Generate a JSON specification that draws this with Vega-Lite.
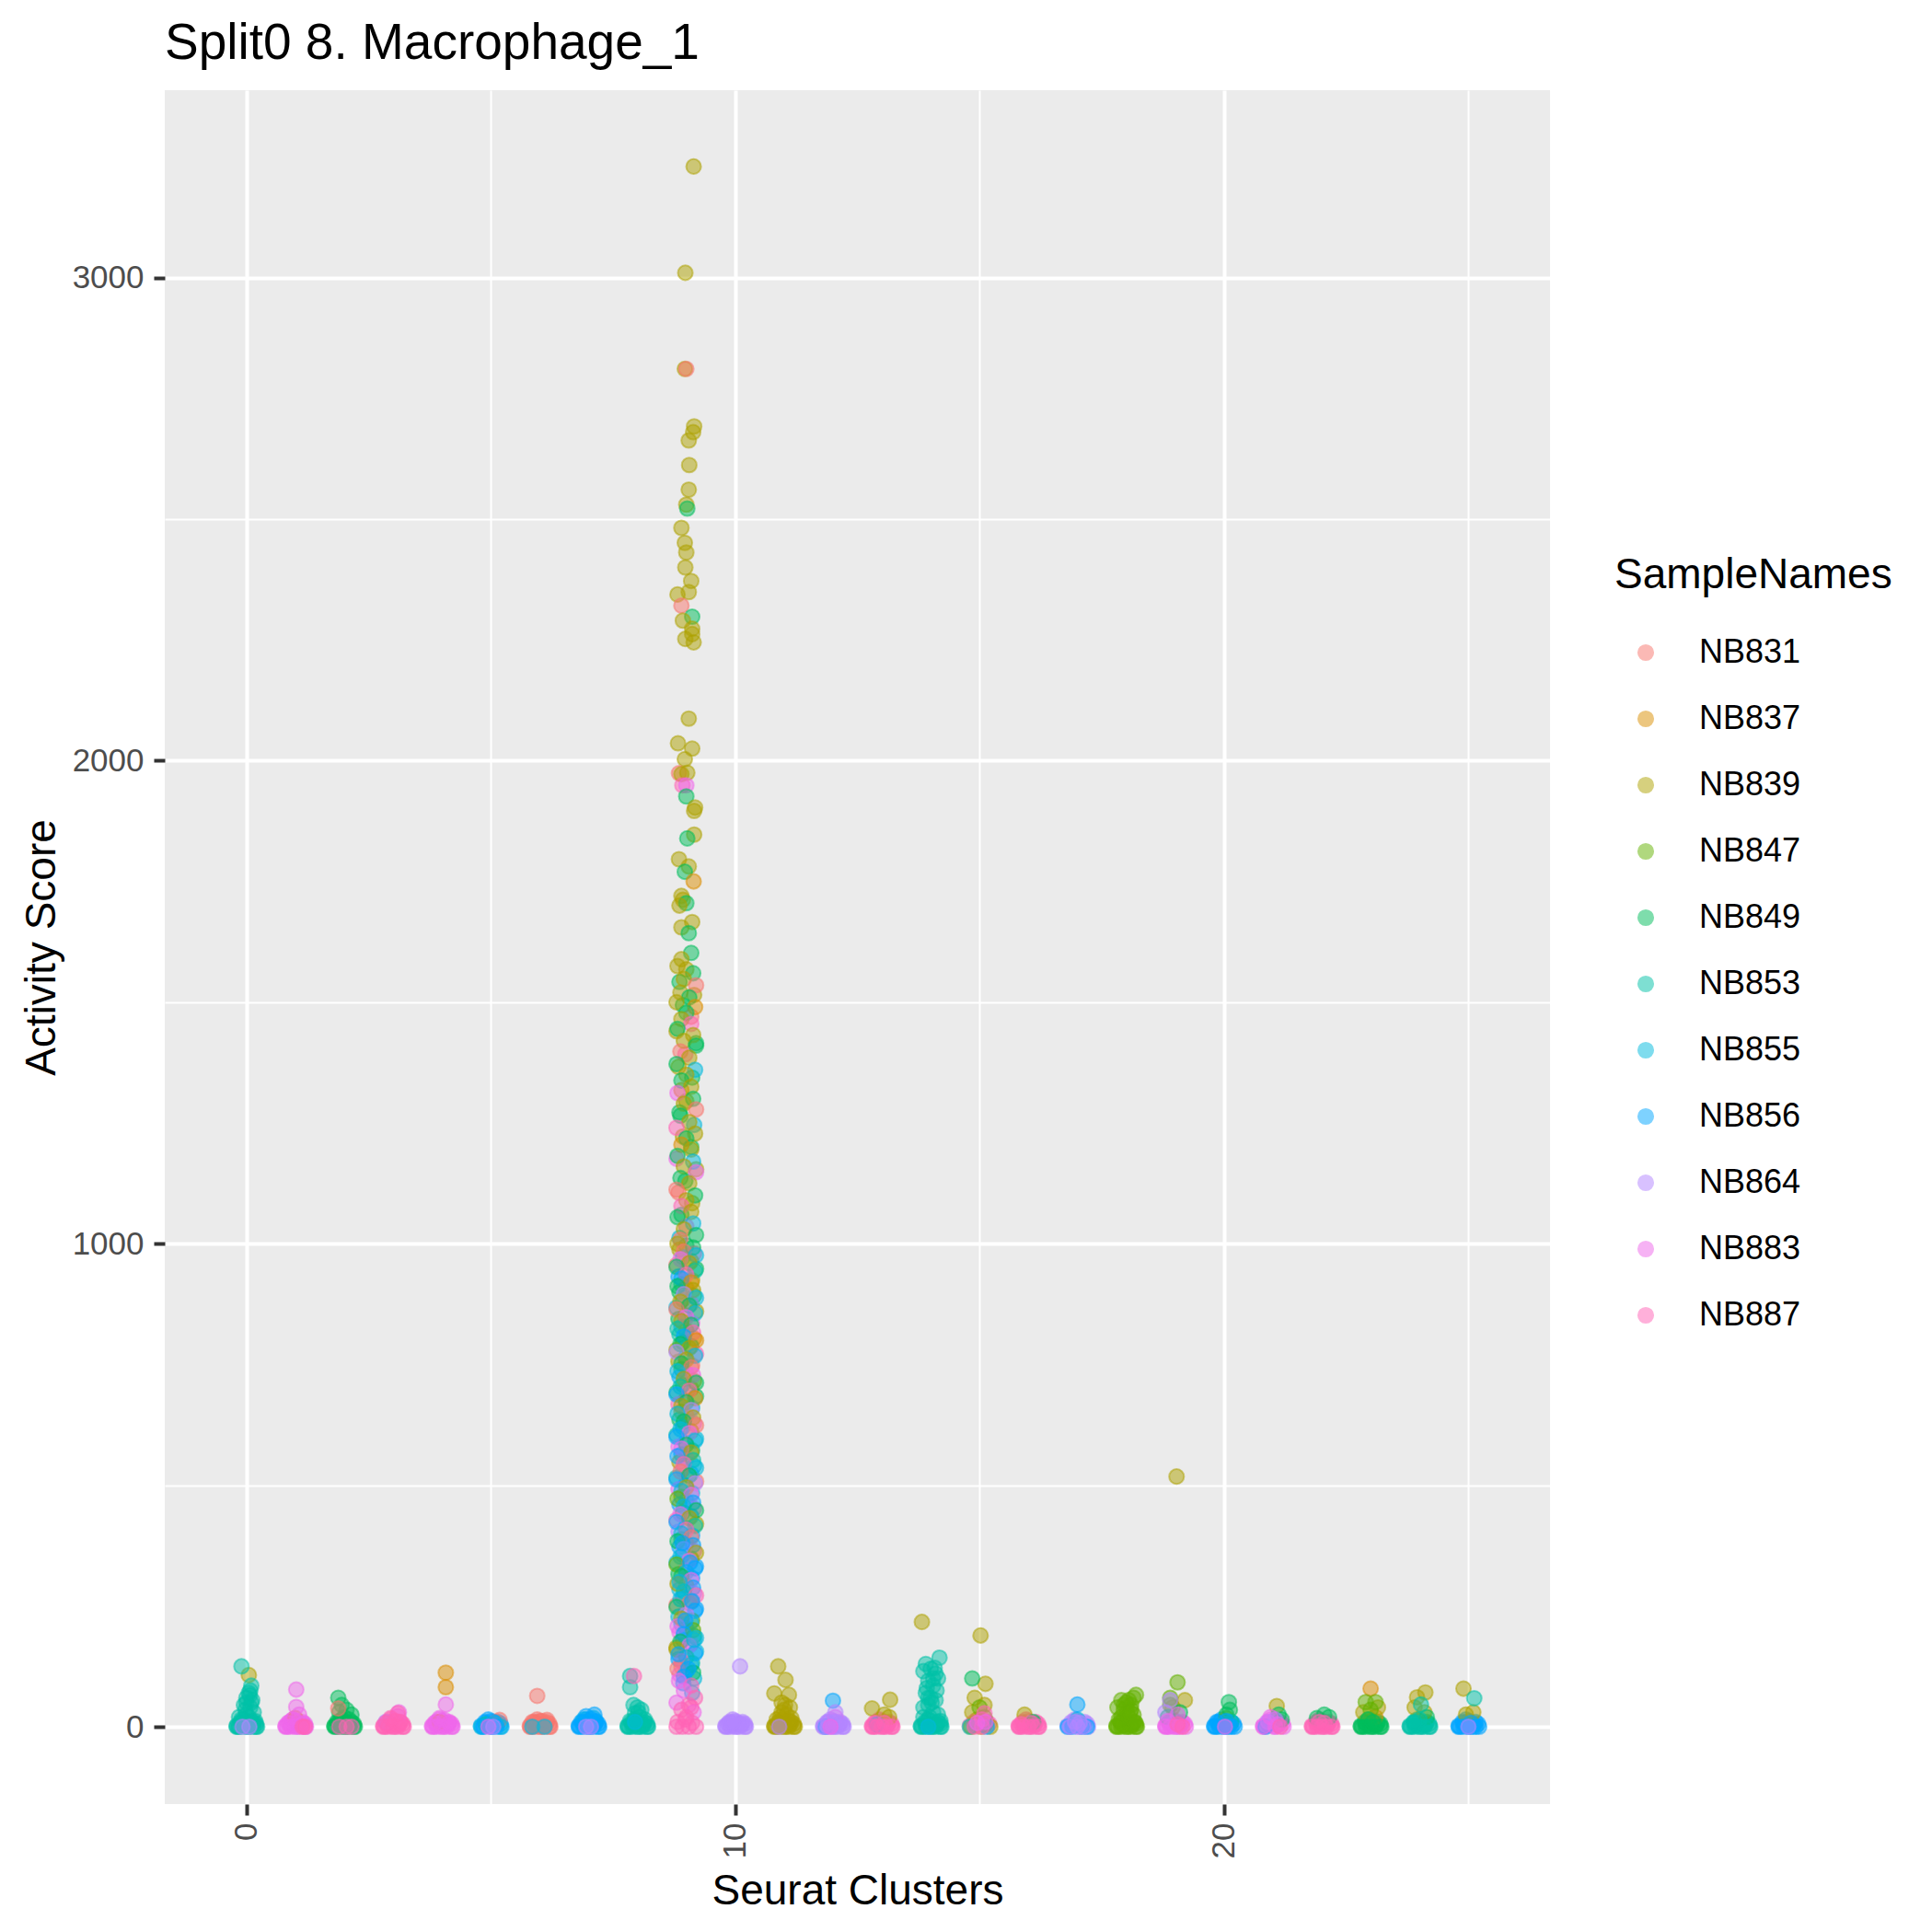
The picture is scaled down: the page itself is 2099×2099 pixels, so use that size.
{
  "$schema": "https://vega.github.io/schema/vega-lite/v6.json",
  "width": 1505,
  "height": 1862,
  "autosize": "none",
  "padding": {"left": 179, "top": 98, "right": 415, "bottom": 139},
  "background": "white",
  "title": {"text": "Split0 8. Macrophage_1", "anchor": "start", "frame": "group", "fontSize": 55, "font": "Liberation Sans", "fontWeight": "normal", "color": "black", "offset": 22},
  "config": {"view": {"fill": "#EBEBEB", "stroke": null}, "font": "Liberation Sans"},
  "data": {"values": [
    {"cluster":-0.2,"score":2,"sample":"NB853"},{"cluster":-0.1,"score":8,"sample":"NB853"},{"cluster":0,"score":12,"sample":"NB853"},{"cluster":0.1,"score":4,"sample":"NB853"},{"cluster":0.2,"score":6,"sample":"NB853"},{"cluster":-0.05,"score":15,"sample":"NB853"},{"cluster":0.15,"score":10,"sample":"NB853"},{"cluster":0.0,"score":50,"sample":"NB853"},{"cluster":0.08,"score":75,"sample":"NB853"},
    {"cluster":0.8,"score":2,"sample":"NB883"},{"cluster":0.9,"score":8,"sample":"NB883"},{"cluster":1.0,"score":12,"sample":"NB883"},{"cluster":1.1,"score":4,"sample":"NB883"},{"cluster":1.2,"score":6,"sample":"NB883"},{"cluster":0.95,"score":15,"sample":"NB883"},{"cluster":1.15,"score":10,"sample":"NB883"},
    {"cluster":1.8,"score":2,"sample":"NB849"},{"cluster":1.9,"score":8,"sample":"NB849"},{"cluster":2.0,"score":12,"sample":"NB849"},{"cluster":2.1,"score":4,"sample":"NB849"},{"cluster":2.2,"score":6,"sample":"NB849"},{"cluster":1.95,"score":15,"sample":"NB849"},{"cluster":2.15,"score":10,"sample":"NB849"},
    {"cluster":2.8,"score":2,"sample":"NB887"},{"cluster":2.9,"score":8,"sample":"NB887"},{"cluster":3.0,"score":12,"sample":"NB887"},{"cluster":3.1,"score":4,"sample":"NB887"},{"cluster":3.2,"score":6,"sample":"NB887"},{"cluster":2.95,"score":15,"sample":"NB887"},{"cluster":3.15,"score":10,"sample":"NB887"},
    {"cluster":3.8,"score":2,"sample":"NB883"},{"cluster":3.9,"score":8,"sample":"NB883"},{"cluster":4.0,"score":12,"sample":"NB883"},{"cluster":4.1,"score":4,"sample":"NB883"},{"cluster":4.2,"score":6,"sample":"NB883"},{"cluster":3.95,"score":15,"sample":"NB883"},{"cluster":4.15,"score":10,"sample":"NB883"},
    {"cluster":4.8,"score":2,"sample":"NB856"},{"cluster":4.9,"score":8,"sample":"NB856"},{"cluster":5.0,"score":12,"sample":"NB856"},{"cluster":5.1,"score":4,"sample":"NB856"},{"cluster":5.2,"score":6,"sample":"NB856"},{"cluster":4.95,"score":15,"sample":"NB856"},{"cluster":5.15,"score":10,"sample":"NB856"},
    {"cluster":5.8,"score":2,"sample":"NB831"},{"cluster":5.9,"score":8,"sample":"NB831"},{"cluster":6.0,"score":12,"sample":"NB831"},{"cluster":6.1,"score":4,"sample":"NB831"},{"cluster":6.2,"score":6,"sample":"NB831"},{"cluster":5.95,"score":15,"sample":"NB831"},{"cluster":6.15,"score":10,"sample":"NB831"},
    {"cluster":6.8,"score":2,"sample":"NB856"},{"cluster":6.9,"score":8,"sample":"NB856"},{"cluster":7.0,"score":12,"sample":"NB856"},{"cluster":7.1,"score":4,"sample":"NB856"},{"cluster":7.2,"score":6,"sample":"NB856"},{"cluster":6.95,"score":15,"sample":"NB856"},{"cluster":7.15,"score":10,"sample":"NB856"},
    {"cluster":7.8,"score":2,"sample":"NB853"},{"cluster":7.9,"score":8,"sample":"NB853"},{"cluster":8.0,"score":12,"sample":"NB853"},{"cluster":8.1,"score":4,"sample":"NB853"},{"cluster":8.2,"score":6,"sample":"NB853"},{"cluster":7.95,"score":15,"sample":"NB853"},{"cluster":8.15,"score":10,"sample":"NB853"},
    {"cluster":9.8,"score":2,"sample":"NB864"},{"cluster":9.9,"score":8,"sample":"NB864"},{"cluster":10.0,"score":12,"sample":"NB864"},{"cluster":10.1,"score":4,"sample":"NB864"},{"cluster":10.2,"score":6,"sample":"NB864"},{"cluster":9.95,"score":15,"sample":"NB864"},{"cluster":10.15,"score":10,"sample":"NB864"},
    {"cluster":10.8,"score":2,"sample":"NB839"},{"cluster":10.9,"score":8,"sample":"NB839"},{"cluster":11.0,"score":12,"sample":"NB839"},{"cluster":11.1,"score":4,"sample":"NB839"},{"cluster":11.2,"score":6,"sample":"NB839"},{"cluster":10.95,"score":15,"sample":"NB839"},{"cluster":11.15,"score":10,"sample":"NB839"},
    {"cluster":11.8,"score":2,"sample":"NB864"},{"cluster":11.9,"score":8,"sample":"NB864"},{"cluster":12.0,"score":12,"sample":"NB864"},{"cluster":12.1,"score":4,"sample":"NB864"},{"cluster":12.2,"score":6,"sample":"NB864"},{"cluster":11.95,"score":15,"sample":"NB864"},{"cluster":12.15,"score":10,"sample":"NB864"},
    {"cluster":12.8,"score":2,"sample":"NB887"},{"cluster":12.9,"score":8,"sample":"NB887"},{"cluster":13.0,"score":12,"sample":"NB887"},{"cluster":13.1,"score":4,"sample":"NB887"},{"cluster":13.2,"score":6,"sample":"NB887"},{"cluster":12.95,"score":15,"sample":"NB887"},{"cluster":13.15,"score":10,"sample":"NB887"},
    {"cluster":13.8,"score":2,"sample":"NB853"},{"cluster":13.9,"score":8,"sample":"NB853"},{"cluster":14.0,"score":12,"sample":"NB853"},{"cluster":14.1,"score":4,"sample":"NB853"},{"cluster":14.2,"score":6,"sample":"NB853"},{"cluster":13.95,"score":15,"sample":"NB853"},{"cluster":14.15,"score":10,"sample":"NB853"},{"cluster":13.95,"score":60,"sample":"NB853"},{"cluster":14.05,"score":100,"sample":"NB853"},{"cluster":14.0,"score":120,"sample":"NB853"},
    {"cluster":14.8,"score":2,"sample":"NB887"},{"cluster":14.9,"score":8,"sample":"NB839"},{"cluster":15.0,"score":12,"sample":"NB887"},{"cluster":15.1,"score":4,"sample":"NB839"},{"cluster":15.2,"score":6,"sample":"NB887"},{"cluster":14.95,"score":15,"sample":"NB839"},{"cluster":15.15,"score":10,"sample":"NB887"},
    {"cluster":15.8,"score":2,"sample":"NB887"},{"cluster":15.9,"score":8,"sample":"NB887"},{"cluster":16.0,"score":12,"sample":"NB887"},{"cluster":16.1,"score":4,"sample":"NB887"},{"cluster":16.2,"score":6,"sample":"NB887"},{"cluster":15.95,"score":15,"sample":"NB887"},{"cluster":16.15,"score":10,"sample":"NB887"},
    {"cluster":16.8,"score":2,"sample":"NB864"},{"cluster":16.9,"score":8,"sample":"NB864"},{"cluster":17.0,"score":12,"sample":"NB864"},{"cluster":17.1,"score":4,"sample":"NB864"},{"cluster":17.2,"score":6,"sample":"NB864"},{"cluster":16.95,"score":15,"sample":"NB864"},{"cluster":17.15,"score":10,"sample":"NB864"},
    {"cluster":17.8,"score":2,"sample":"NB847"},{"cluster":17.9,"score":8,"sample":"NB847"},{"cluster":18.0,"score":12,"sample":"NB847"},{"cluster":18.1,"score":4,"sample":"NB847"},{"cluster":18.2,"score":6,"sample":"NB847"},{"cluster":17.95,"score":15,"sample":"NB847"},{"cluster":18.15,"score":10,"sample":"NB847"},{"cluster":17.9,"score":20,"sample":"NB847"},{"cluster":18.1,"score":35,"sample":"NB847"},{"cluster":18.0,"score":40,"sample":"NB847"},{"cluster":18.05,"score":55,"sample":"NB847"},
    {"cluster":18.8,"score":2,"sample":"NB883"},{"cluster":18.9,"score":8,"sample":"NB883"},{"cluster":19.0,"score":12,"sample":"NB883"},{"cluster":19.1,"score":4,"sample":"NB883"},{"cluster":19.2,"score":6,"sample":"NB883"},{"cluster":18.95,"score":15,"sample":"NB883"},{"cluster":19.15,"score":10,"sample":"NB883"},
    {"cluster":19.8,"score":2,"sample":"NB856"},{"cluster":19.9,"score":8,"sample":"NB856"},{"cluster":20.0,"score":12,"sample":"NB856"},{"cluster":20.1,"score":4,"sample":"NB856"},{"cluster":20.2,"score":6,"sample":"NB856"},{"cluster":19.95,"score":15,"sample":"NB856"},{"cluster":20.15,"score":10,"sample":"NB856"},
    {"cluster":20.8,"score":2,"sample":"NB883"},{"cluster":20.9,"score":8,"sample":"NB883"},{"cluster":21.0,"score":12,"sample":"NB883"},{"cluster":21.1,"score":4,"sample":"NB883"},{"cluster":21.2,"score":6,"sample":"NB883"},{"cluster":20.95,"score":15,"sample":"NB883"},{"cluster":21.15,"score":10,"sample":"NB883"},
    {"cluster":21.8,"score":2,"sample":"NB887"},{"cluster":21.9,"score":8,"sample":"NB887"},{"cluster":22.0,"score":12,"sample":"NB887"},{"cluster":22.1,"score":4,"sample":"NB887"},{"cluster":22.2,"score":6,"sample":"NB887"},{"cluster":21.95,"score":15,"sample":"NB887"},{"cluster":22.15,"score":10,"sample":"NB887"},
    {"cluster":22.8,"score":2,"sample":"NB849"},{"cluster":22.9,"score":8,"sample":"NB849"},{"cluster":23.0,"score":12,"sample":"NB849"},{"cluster":23.1,"score":4,"sample":"NB849"},{"cluster":23.2,"score":6,"sample":"NB849"},{"cluster":22.95,"score":15,"sample":"NB849"},{"cluster":23.15,"score":10,"sample":"NB849"},
    {"cluster":23.8,"score":2,"sample":"NB853"},{"cluster":23.9,"score":8,"sample":"NB853"},{"cluster":24.0,"score":12,"sample":"NB853"},{"cluster":24.1,"score":4,"sample":"NB853"},{"cluster":24.2,"score":6,"sample":"NB853"},{"cluster":23.95,"score":15,"sample":"NB853"},{"cluster":24.15,"score":10,"sample":"NB853"},
    {"cluster":24.8,"score":2,"sample":"NB856"},{"cluster":24.9,"score":8,"sample":"NB856"},{"cluster":25.0,"score":12,"sample":"NB856"},{"cluster":25.1,"score":4,"sample":"NB856"},{"cluster":25.2,"score":6,"sample":"NB856"},{"cluster":24.95,"score":15,"sample":"NB856"},{"cluster":25.15,"score":10,"sample":"NB856"},

    {"cluster":-0.17,"score":0,"sample":"NB853"},{"cluster":-0.07,"score":3,"sample":"NB853"},{"cluster":0.03,"score":0,"sample":"NB853"},{"cluster":0.13,"score":6,"sample":"NB853"},{"cluster":0.22,"score":0,"sample":"NB853"},{"cluster":-0.12,"score":10,"sample":"NB853"},{"cluster":0.08,"score":4,"sample":"NB853"},{"cluster":0.05,"score":20,"sample":"NB853"},{"cluster":-0.02,"score":35,"sample":"NB853"},{"cluster":0.1,"score":50,"sample":"NB853"},{"cluster":0.07,"score":65,"sample":"NB853"},
    {"cluster":0.83,"score":0,"sample":"NB883"},{"cluster":0.93,"score":3,"sample":"NB883"},{"cluster":1.03,"score":0,"sample":"NB883"},{"cluster":1.13,"score":6,"sample":"NB883"},{"cluster":1.22,"score":0,"sample":"NB883"},{"cluster":0.88,"score":10,"sample":"NB883"},{"cluster":1.08,"score":4,"sample":"NB883"},
    {"cluster":1.83,"score":0,"sample":"NB849"},{"cluster":1.93,"score":3,"sample":"NB849"},{"cluster":2.03,"score":0,"sample":"NB849"},{"cluster":2.13,"score":6,"sample":"NB849"},{"cluster":2.22,"score":0,"sample":"NB849"},{"cluster":1.88,"score":10,"sample":"NB849"},{"cluster":2.08,"score":4,"sample":"NB849"},{"cluster":1.95,"score":45,"sample":"NB849"},
    {"cluster":2.83,"score":0,"sample":"NB887"},{"cluster":2.93,"score":3,"sample":"NB887"},{"cluster":3.03,"score":0,"sample":"NB887"},{"cluster":3.13,"score":6,"sample":"NB887"},{"cluster":3.22,"score":0,"sample":"NB887"},{"cluster":2.88,"score":10,"sample":"NB887"},{"cluster":3.08,"score":4,"sample":"NB887"},
    {"cluster":3.83,"score":0,"sample":"NB883"},{"cluster":3.93,"score":3,"sample":"NB883"},{"cluster":4.03,"score":0,"sample":"NB883"},{"cluster":4.13,"score":6,"sample":"NB883"},{"cluster":4.22,"score":0,"sample":"NB883"},{"cluster":3.88,"score":10,"sample":"NB883"},{"cluster":4.08,"score":4,"sample":"NB883"},
    {"cluster":4.83,"score":0,"sample":"NB856"},{"cluster":4.93,"score":3,"sample":"NB856"},{"cluster":5.03,"score":0,"sample":"NB856"},{"cluster":5.13,"score":6,"sample":"NB856"},{"cluster":5.22,"score":0,"sample":"NB856"},{"cluster":4.88,"score":10,"sample":"NB856"},{"cluster":5.08,"score":4,"sample":"NB856"},
    {"cluster":5.83,"score":0,"sample":"NB831"},{"cluster":5.93,"score":3,"sample":"NB831"},{"cluster":6.03,"score":0,"sample":"NB831"},{"cluster":6.13,"score":6,"sample":"NB831"},{"cluster":6.22,"score":0,"sample":"NB831"},{"cluster":5.88,"score":10,"sample":"NB831"},{"cluster":6.08,"score":4,"sample":"NB831"},
    {"cluster":6.83,"score":0,"sample":"NB856"},{"cluster":6.93,"score":3,"sample":"NB856"},{"cluster":7.03,"score":0,"sample":"NB856"},{"cluster":7.13,"score":6,"sample":"NB856"},{"cluster":7.22,"score":0,"sample":"NB856"},{"cluster":6.88,"score":10,"sample":"NB856"},{"cluster":7.08,"score":4,"sample":"NB856"},
    {"cluster":7.83,"score":0,"sample":"NB853"},{"cluster":7.93,"score":3,"sample":"NB853"},{"cluster":8.03,"score":0,"sample":"NB853"},{"cluster":8.13,"score":6,"sample":"NB853"},{"cluster":8.22,"score":0,"sample":"NB853"},{"cluster":7.88,"score":10,"sample":"NB853"},{"cluster":8.08,"score":4,"sample":"NB853"},{"cluster":8.02,"score":30,"sample":"NB853"},{"cluster":7.92,"score":45,"sample":"NB853"},
    {"cluster":9.83,"score":0,"sample":"NB864"},{"cluster":9.93,"score":3,"sample":"NB864"},{"cluster":10.03,"score":0,"sample":"NB864"},{"cluster":10.13,"score":6,"sample":"NB864"},{"cluster":10.22,"score":0,"sample":"NB864"},{"cluster":9.88,"score":10,"sample":"NB864"},{"cluster":10.08,"score":4,"sample":"NB864"},
    {"cluster":10.83,"score":0,"sample":"NB839"},{"cluster":10.93,"score":3,"sample":"NB839"},{"cluster":11.03,"score":0,"sample":"NB839"},{"cluster":11.13,"score":6,"sample":"NB839"},{"cluster":11.22,"score":0,"sample":"NB839"},{"cluster":10.88,"score":10,"sample":"NB839"},{"cluster":11.08,"score":4,"sample":"NB839"},{"cluster":11.02,"score":45,"sample":"NB839"},{"cluster":10.92,"score":20,"sample":"NB839"},
    {"cluster":11.83,"score":0,"sample":"NB864"},{"cluster":11.93,"score":3,"sample":"NB864"},{"cluster":12.03,"score":0,"sample":"NB864"},{"cluster":12.13,"score":6,"sample":"NB864"},{"cluster":12.22,"score":0,"sample":"NB864"},{"cluster":11.88,"score":10,"sample":"NB864"},{"cluster":12.08,"score":4,"sample":"NB864"},
    {"cluster":12.83,"score":0,"sample":"NB887"},{"cluster":12.93,"score":3,"sample":"NB887"},{"cluster":13.03,"score":0,"sample":"NB887"},{"cluster":13.13,"score":6,"sample":"NB887"},{"cluster":13.22,"score":0,"sample":"NB887"},{"cluster":12.88,"score":10,"sample":"NB887"},{"cluster":13.08,"score":4,"sample":"NB887"},
    {"cluster":13.83,"score":0,"sample":"NB853"},{"cluster":13.93,"score":3,"sample":"NB853"},{"cluster":14.03,"score":0,"sample":"NB853"},{"cluster":14.13,"score":6,"sample":"NB853"},{"cluster":14.22,"score":0,"sample":"NB853"},{"cluster":13.88,"score":10,"sample":"NB853"},{"cluster":14.08,"score":4,"sample":"NB853"},{"cluster":14.02,"score":50,"sample":"NB853"},{"cluster":13.92,"score":80,"sample":"NB853"},{"cluster":14.1,"score":110,"sample":"NB853"},{"cluster":13.98,"score":20,"sample":"NB853"},
    {"cluster":14.83,"score":0,"sample":"NB839"},{"cluster":14.93,"score":3,"sample":"NB887"},{"cluster":15.03,"score":0,"sample":"NB839"},{"cluster":15.13,"score":6,"sample":"NB887"},{"cluster":15.22,"score":0,"sample":"NB839"},{"cluster":14.88,"score":10,"sample":"NB887"},{"cluster":15.08,"score":4,"sample":"NB839"},
    {"cluster":15.83,"score":0,"sample":"NB887"},{"cluster":15.93,"score":3,"sample":"NB887"},{"cluster":16.03,"score":0,"sample":"NB887"},{"cluster":16.13,"score":6,"sample":"NB887"},{"cluster":16.22,"score":0,"sample":"NB887"},{"cluster":15.88,"score":10,"sample":"NB887"},{"cluster":16.08,"score":4,"sample":"NB887"},
    {"cluster":16.83,"score":0,"sample":"NB864"},{"cluster":16.93,"score":3,"sample":"NB864"},{"cluster":17.03,"score":0,"sample":"NB864"},{"cluster":17.13,"score":6,"sample":"NB864"},{"cluster":17.22,"score":0,"sample":"NB864"},{"cluster":16.88,"score":10,"sample":"NB864"},{"cluster":17.08,"score":4,"sample":"NB864"},
    {"cluster":17.83,"score":0,"sample":"NB847"},{"cluster":17.93,"score":3,"sample":"NB847"},{"cluster":18.03,"score":0,"sample":"NB847"},{"cluster":18.13,"score":6,"sample":"NB847"},{"cluster":18.22,"score":0,"sample":"NB847"},{"cluster":17.88,"score":10,"sample":"NB847"},{"cluster":18.08,"score":4,"sample":"NB847"},{"cluster":18.02,"score":30,"sample":"NB847"},{"cluster":17.95,"score":45,"sample":"NB847"},
    {"cluster":18.83,"score":0,"sample":"NB883"},{"cluster":18.93,"score":3,"sample":"NB883"},{"cluster":19.03,"score":0,"sample":"NB883"},{"cluster":19.13,"score":6,"sample":"NB883"},{"cluster":19.22,"score":0,"sample":"NB883"},{"cluster":18.88,"score":10,"sample":"NB883"},{"cluster":19.08,"score":4,"sample":"NB883"},
    {"cluster":19.83,"score":0,"sample":"NB856"},{"cluster":19.93,"score":3,"sample":"NB856"},{"cluster":20.03,"score":0,"sample":"NB856"},{"cluster":20.13,"score":6,"sample":"NB856"},{"cluster":20.22,"score":0,"sample":"NB856"},{"cluster":19.88,"score":10,"sample":"NB856"},{"cluster":20.08,"score":4,"sample":"NB856"},
    {"cluster":20.83,"score":0,"sample":"NB883"},{"cluster":20.93,"score":3,"sample":"NB883"},{"cluster":21.03,"score":0,"sample":"NB883"},{"cluster":21.13,"score":6,"sample":"NB883"},{"cluster":21.22,"score":0,"sample":"NB883"},{"cluster":20.88,"score":10,"sample":"NB883"},{"cluster":21.08,"score":4,"sample":"NB883"},
    {"cluster":21.83,"score":0,"sample":"NB887"},{"cluster":21.93,"score":3,"sample":"NB887"},{"cluster":22.03,"score":0,"sample":"NB887"},{"cluster":22.13,"score":6,"sample":"NB887"},{"cluster":22.22,"score":0,"sample":"NB887"},{"cluster":21.88,"score":10,"sample":"NB887"},{"cluster":22.08,"score":4,"sample":"NB887"},
    {"cluster":22.83,"score":0,"sample":"NB849"},{"cluster":22.93,"score":3,"sample":"NB849"},{"cluster":23.03,"score":0,"sample":"NB849"},{"cluster":23.13,"score":6,"sample":"NB849"},{"cluster":23.22,"score":0,"sample":"NB849"},{"cluster":22.88,"score":10,"sample":"NB849"},{"cluster":23.08,"score":4,"sample":"NB849"},
    {"cluster":23.83,"score":0,"sample":"NB853"},{"cluster":23.93,"score":3,"sample":"NB853"},{"cluster":24.03,"score":0,"sample":"NB853"},{"cluster":24.13,"score":6,"sample":"NB853"},{"cluster":24.22,"score":0,"sample":"NB853"},{"cluster":23.88,"score":10,"sample":"NB853"},{"cluster":24.08,"score":4,"sample":"NB853"},
    {"cluster":24.83,"score":0,"sample":"NB856"},{"cluster":24.93,"score":3,"sample":"NB856"},{"cluster":25.03,"score":0,"sample":"NB856"},{"cluster":25.13,"score":6,"sample":"NB856"},{"cluster":25.22,"score":0,"sample":"NB856"},{"cluster":24.88,"score":10,"sample":"NB856"},{"cluster":25.08,"score":4,"sample":"NB856"},

    {"cluster":9.0,"score":1568,"sample":"NB839"},{"cluster":8.86,"score":1542,"sample":"NB849"},{"cluster":9.16,"score":1515,"sample":"NB839"},{"cluster":8.93,"score":1494,"sample":"NB849"},{"cluster":9.1,"score":1470,"sample":"NB831"},{"cluster":8.8,"score":1440,"sample":"NB839"},{"cluster":9.2,"score":1415,"sample":"NB849"},{"cluster":8.98,"score":1392,"sample":"NB887"},{"cluster":8.84,"score":1366,"sample":"NB839"},{"cluster":9.12,"score":1344,"sample":"NB849"},{"cluster":8.9,"score":1318,"sample":"NB837"},{"cluster":9.0,"score":1295,"sample":"NB839"},{"cluster":8.86,"score":1272,"sample":"NB849"},{"cluster":9.16,"score":1246,"sample":"NB855"},{"cluster":8.93,"score":1222,"sample":"NB839"},{"cluster":9.1,"score":1200,"sample":"NB849"},{"cluster":8.8,"score":1176,"sample":"NB883"},{"cluster":9.2,"score":1154,"sample":"NB839"},{"cluster":8.98,"score":1130,"sample":"NB849"},{"cluster":8.84,"score":1106,"sample":"NB831"},{"cluster":9.12,"score":1084,"sample":"NB839"},{"cluster":8.9,"score":1060,"sample":"NB849"},{"cluster":9.0,"score":1036,"sample":"NB887"},{"cluster":8.86,"score":1012,"sample":"NB855"},

    {"cluster":9.0,"score":996,"sample":"NB849"},{"cluster":8.86,"score":988,"sample":"NB839"},{"cluster":9.16,"score":980,"sample":"NB887"},{"cluster":8.93,"score":972,"sample":"NB855"},{"cluster":9.1,"score":964,"sample":"NB839"},{"cluster":8.8,"score":956,"sample":"NB831"},{"cluster":9.2,"score":948,"sample":"NB849"},{"cluster":8.98,"score":940,"sample":"NB883"},{"cluster":8.84,"score":932,"sample":"NB856"},{"cluster":9.12,"score":924,"sample":"NB839"},{"cluster":8.9,"score":916,"sample":"NB853"},{"cluster":9.0,"score":908,"sample":"NB837"},{"cluster":8.86,"score":900,"sample":"NB849"},{"cluster":9.16,"score":892,"sample":"NB849"},{"cluster":8.93,"score":884,"sample":"NB839"},{"cluster":9.1,"score":876,"sample":"NB887"},{"cluster":8.8,"score":868,"sample":"NB855"},{"cluster":9.2,"score":860,"sample":"NB839"},{"cluster":8.98,"score":852,"sample":"NB831"},{"cluster":8.84,"score":844,"sample":"NB849"},{"cluster":9.12,"score":836,"sample":"NB883"},{"cluster":8.9,"score":828,"sample":"NB856"},{"cluster":9.0,"score":820,"sample":"NB839"},{"cluster":8.86,"score":812,"sample":"NB853"},{"cluster":9.16,"score":804,"sample":"NB837"},{"cluster":8.93,"score":796,"sample":"NB849"},{"cluster":9.1,"score":788,"sample":"NB849"},{"cluster":8.8,"score":780,"sample":"NB839"},{"cluster":9.2,"score":772,"sample":"NB887"},{"cluster":8.98,"score":764,"sample":"NB855"},{"cluster":8.84,"score":756,"sample":"NB839"},{"cluster":9.12,"score":748,"sample":"NB831"},{"cluster":8.9,"score":740,"sample":"NB849"},{"cluster":9.0,"score":732,"sample":"NB883"},{"cluster":8.86,"score":724,"sample":"NB856"},{"cluster":9.16,"score":716,"sample":"NB839"},{"cluster":8.93,"score":708,"sample":"NB853"},{"cluster":9.1,"score":700,"sample":"NB837"},{"cluster":8.8,"score":692,"sample":"NB849"},{"cluster":9.2,"score":684,"sample":"NB849"},{"cluster":8.98,"score":676,"sample":"NB839"},{"cluster":8.84,"score":668,"sample":"NB887"},{"cluster":9.12,"score":660,"sample":"NB855"},{"cluster":8.9,"score":652,"sample":"NB839"},{"cluster":9.0,"score":644,"sample":"NB831"},{"cluster":8.86,"score":636,"sample":"NB849"},{"cluster":9.16,"score":628,"sample":"NB883"},{"cluster":8.93,"score":620,"sample":"NB856"},{"cluster":9.1,"score":612,"sample":"NB839"},{"cluster":8.8,"score":604,"sample":"NB853"},

    {"cluster":9.2,"score":596,"sample":"NB855"},{"cluster":8.98,"score":588,"sample":"NB856"},{"cluster":8.84,"score":580,"sample":"NB883"},{"cluster":9.12,"score":572,"sample":"NB849"},{"cluster":8.9,"score":564,"sample":"NB856"},{"cluster":9.0,"score":556,"sample":"NB887"},{"cluster":8.86,"score":548,"sample":"NB839"},{"cluster":9.16,"score":540,"sample":"NB855"},{"cluster":8.93,"score":532,"sample":"NB864"},{"cluster":9.1,"score":524,"sample":"NB856"},{"cluster":8.8,"score":516,"sample":"NB853"},{"cluster":9.2,"score":508,"sample":"NB831"},{"cluster":8.98,"score":500,"sample":"NB856"},{"cluster":8.84,"score":492,"sample":"NB883"},{"cluster":9.12,"score":484,"sample":"NB855"},{"cluster":8.9,"score":476,"sample":"NB847"},{"cluster":9.0,"score":468,"sample":"NB855"},{"cluster":8.86,"score":460,"sample":"NB856"},{"cluster":9.16,"score":452,"sample":"NB883"},{"cluster":8.93,"score":444,"sample":"NB849"},{"cluster":9.1,"score":436,"sample":"NB856"},{"cluster":8.8,"score":428,"sample":"NB887"},{"cluster":9.2,"score":420,"sample":"NB839"},{"cluster":8.98,"score":412,"sample":"NB855"},{"cluster":8.84,"score":404,"sample":"NB864"},{"cluster":9.12,"score":396,"sample":"NB856"},{"cluster":8.9,"score":388,"sample":"NB853"},{"cluster":9.0,"score":380,"sample":"NB831"},{"cluster":8.86,"score":372,"sample":"NB856"},{"cluster":9.16,"score":364,"sample":"NB883"},{"cluster":8.93,"score":356,"sample":"NB855"},{"cluster":9.1,"score":348,"sample":"NB847"},{"cluster":8.8,"score":340,"sample":"NB855"},{"cluster":9.2,"score":332,"sample":"NB856"},{"cluster":8.98,"score":324,"sample":"NB883"},{"cluster":8.84,"score":316,"sample":"NB849"},{"cluster":9.12,"score":308,"sample":"NB856"},{"cluster":8.9,"score":300,"sample":"NB887"},{"cluster":9.0,"score":292,"sample":"NB839"},{"cluster":8.86,"score":284,"sample":"NB855"},{"cluster":9.16,"score":276,"sample":"NB864"},{"cluster":8.93,"score":268,"sample":"NB856"},{"cluster":9.1,"score":260,"sample":"NB853"},{"cluster":8.8,"score":252,"sample":"NB831"},{"cluster":9.2,"score":244,"sample":"NB856"},{"cluster":8.98,"score":236,"sample":"NB883"},{"cluster":8.84,"score":228,"sample":"NB855"},{"cluster":9.12,"score":220,"sample":"NB847"},{"cluster":8.9,"score":212,"sample":"NB855"},{"cluster":9.0,"score":204,"sample":"NB856"},{"cluster":8.86,"score":196,"sample":"NB883"},{"cluster":9.16,"score":188,"sample":"NB849"},{"cluster":8.93,"score":180,"sample":"NB856"},{"cluster":9.1,"score":172,"sample":"NB887"},{"cluster":8.8,"score":164,"sample":"NB839"},{"cluster":9.2,"score":156,"sample":"NB855"},{"cluster":8.98,"score":148,"sample":"NB864"},{"cluster":8.84,"score":140,"sample":"NB856"},{"cluster":9.12,"score":132,"sample":"NB853"},{"cluster":8.9,"score":124,"sample":"NB831"},{"cluster":9.0,"score":116,"sample":"NB856"},{"cluster":8.86,"score":108,"sample":"NB883"},{"cluster":9.16,"score":100,"sample":"NB855"},

    {"cluster":0.05,"score":107,"sample":"NB839"},
    {"cluster":-0.1,"score":125,"sample":"NB853"},{"cluster":-0.15,"score":0,"sample":"NB853"},{"cluster":-0.05,"score":0,"sample":"NB853"},{"cluster":0.05,"score":0,"sample":"NB853"},{"cluster":0.15,"score":0,"sample":"NB853"},{"cluster":0.2,"score":0,"sample":"NB853"},{"cluster":-0.2,"score":0,"sample":"NB853"},{"cluster":0.1,"score":10,"sample":"NB853"},{"cluster":-0.1,"score":15,"sample":"NB853"},{"cluster":0,"score":25,"sample":"NB853"},{"cluster":0.08,"score":40,"sample":"NB853"},{"cluster":0.12,"score":55,"sample":"NB853"},{"cluster":0.05,"score":70,"sample":"NB853"},{"cluster":0.1,"score":85,"sample":"NB853"},{"cluster":-0.05,"score":45,"sample":"NB853"},{"cluster":0.15,"score":30,"sample":"NB853"},{"cluster":-0.15,"score":20,"sample":"NB853"},{"cluster":0,"score":60,"sample":"NB853"},{"cluster":0.18,"score":12,"sample":"NB853"},
    {"cluster":-0.08,"score":0,"sample":"NB864"},{"cluster":0.06,"score":0,"sample":"NB864"},

    {"cluster":1.0,"score":18,"sample":"NB837"},
    {"cluster":0.8,"score":0,"sample":"NB883"},{"cluster":0.9,"score":0,"sample":"NB883"},{"cluster":1.0,"score":0,"sample":"NB883"},{"cluster":1.1,"score":0,"sample":"NB883"},{"cluster":1.2,"score":0,"sample":"NB883"},{"cluster":0.85,"score":8,"sample":"NB883"},{"cluster":1.05,"score":10,"sample":"NB883"},{"cluster":1.15,"score":6,"sample":"NB883"},{"cluster":0.95,"score":15,"sample":"NB883"},{"cluster":1.02,"score":41,"sample":"NB883"},{"cluster":1.02,"score":77,"sample":"NB883"},{"cluster":1.08,"score":25,"sample":"NB883"},
    {"cluster":1.15,"score":0,"sample":"NB887"},{"cluster":1.2,"score":0,"sample":"NB887"},

    {"cluster":1.8,"score":0,"sample":"NB849"},{"cluster":1.9,"score":0,"sample":"NB849"},{"cluster":2.0,"score":0,"sample":"NB849"},{"cluster":2.1,"score":0,"sample":"NB849"},{"cluster":2.2,"score":0,"sample":"NB849"},{"cluster":1.85,"score":10,"sample":"NB849"},{"cluster":2.0,"score":20,"sample":"NB849"},{"cluster":2.1,"score":15,"sample":"NB849"},{"cluster":1.9,"score":30,"sample":"NB849"},{"cluster":1.88,"score":60,"sample":"NB849"},{"cluster":2.05,"score":35,"sample":"NB849"},{"cluster":2.15,"score":25,"sample":"NB849"},
    {"cluster":1.9,"score":0,"sample":"NB887"},{"cluster":2.05,"score":0,"sample":"NB887"},{"cluster":2.15,"score":0,"sample":"NB887"},
    {"cluster":1.88,"score":38,"sample":"NB831"},

    {"cluster":2.85,"score":10,"sample":"NB864"},
    {"cluster":3.1,"score":22,"sample":"NB883"},{"cluster":3.12,"score":30,"sample":"NB883"},
    {"cluster":2.8,"score":0,"sample":"NB887"},{"cluster":2.9,"score":0,"sample":"NB887"},{"cluster":3.0,"score":0,"sample":"NB887"},{"cluster":3.1,"score":0,"sample":"NB887"},{"cluster":3.2,"score":0,"sample":"NB887"},{"cluster":2.85,"score":8,"sample":"NB887"},{"cluster":3.05,"score":12,"sample":"NB887"},{"cluster":3.15,"score":10,"sample":"NB887"},{"cluster":2.95,"score":18,"sample":"NB887"},{"cluster":3.1,"score":28,"sample":"NB887"},

    {"cluster":4.08,"score":112,"sample":"NB837"},{"cluster":4.08,"score":82,"sample":"NB837"},{"cluster":3.95,"score":10,"sample":"NB837"},
    {"cluster":4.08,"score":46,"sample":"NB883"},{"cluster":3.8,"score":0,"sample":"NB883"},{"cluster":3.9,"score":0,"sample":"NB883"},{"cluster":4.0,"score":0,"sample":"NB883"},{"cluster":4.1,"score":0,"sample":"NB883"},{"cluster":4.2,"score":0,"sample":"NB883"},{"cluster":3.85,"score":8,"sample":"NB883"},{"cluster":4.05,"score":14,"sample":"NB883"},{"cluster":4.15,"score":8,"sample":"NB883"},{"cluster":3.95,"score":18,"sample":"NB883"},

    {"cluster":5.1,"score":10,"sample":"NB831"},{"cluster":5.18,"score":14,"sample":"NB831"},
    {"cluster":4.9,"score":5,"sample":"NB853"},
    {"cluster":4.8,"score":0,"sample":"NB855"},{"cluster":5.2,"score":0,"sample":"NB855"},{"cluster":5.1,"score":8,"sample":"NB855"},
    {"cluster":4.85,"score":0,"sample":"NB856"},{"cluster":5.0,"score":0,"sample":"NB856"},{"cluster":5.12,"score":0,"sample":"NB856"},{"cluster":5.05,"score":10,"sample":"NB856"},
    {"cluster":4.95,"score":0,"sample":"NB883"},{"cluster":5.05,"score":0,"sample":"NB864"},

    {"cluster":5.95,"score":64,"sample":"NB831"},{"cluster":5.8,"score":0,"sample":"NB831"},{"cluster":5.9,"score":0,"sample":"NB831"},{"cluster":6.0,"score":0,"sample":"NB831"},{"cluster":6.1,"score":0,"sample":"NB831"},{"cluster":6.2,"score":0,"sample":"NB831"},{"cluster":5.85,"score":10,"sample":"NB831"},{"cluster":6.05,"score":12,"sample":"NB831"},{"cluster":6.15,"score":14,"sample":"NB831"},{"cluster":5.95,"score":8,"sample":"NB831"},
    {"cluster":5.85,"score":0,"sample":"NB855"},{"cluster":6.1,"score":0,"sample":"NB855"},

    {"cluster":6.9,"score":15,"sample":"NB855"},{"cluster":7.1,"score":18,"sample":"NB855"},
    {"cluster":6.8,"score":0,"sample":"NB856"},{"cluster":6.9,"score":0,"sample":"NB856"},{"cluster":7.0,"score":0,"sample":"NB856"},{"cluster":7.1,"score":0,"sample":"NB856"},{"cluster":7.2,"score":0,"sample":"NB856"},{"cluster":6.85,"score":10,"sample":"NB856"},{"cluster":7.05,"score":16,"sample":"NB856"},{"cluster":7.15,"score":12,"sample":"NB856"},{"cluster":6.95,"score":22,"sample":"NB856"},{"cluster":7.12,"score":25,"sample":"NB856"},
    {"cluster":6.95,"score":0,"sample":"NB864"},{"cluster":7.05,"score":0,"sample":"NB864"},

    {"cluster":7.85,"score":105,"sample":"NB853"},{"cluster":7.85,"score":82,"sample":"NB853"},{"cluster":7.8,"score":0,"sample":"NB853"},{"cluster":7.9,"score":0,"sample":"NB853"},{"cluster":8.0,"score":0,"sample":"NB853"},{"cluster":8.1,"score":0,"sample":"NB853"},{"cluster":8.2,"score":0,"sample":"NB853"},{"cluster":7.85,"score":12,"sample":"NB853"},{"cluster":8.05,"score":20,"sample":"NB853"},{"cluster":8.15,"score":15,"sample":"NB853"},{"cluster":7.95,"score":28,"sample":"NB853"},{"cluster":8.08,"score":35,"sample":"NB853"},{"cluster":8.0,"score":40,"sample":"NB853"},
    {"cluster":7.93,"score":105,"sample":"NB887"},{"cluster":7.95,"score":10,"sample":"NB855"},

    {"cluster":9.15,"score":3230,"sample":"NB839"},{"cluster":8.98,"score":3010,"sample":"NB839"},{"cluster":8.97,"score":2811,"sample":"NB839"},{"cluster":9.0,"score":2811,"sample":"NB831"},{"cluster":9.16,"score":2692,"sample":"NB839"},{"cluster":9.14,"score":2680,"sample":"NB839"},{"cluster":9.05,"score":2663,"sample":"NB839"},{"cluster":9.06,"score":2612,"sample":"NB839"},{"cluster":9.05,"score":2561,"sample":"NB839"},{"cluster":9.0,"score":2530,"sample":"NB839"},{"cluster":9.02,"score":2522,"sample":"NB849"},{"cluster":8.9,"score":2482,"sample":"NB839"},{"cluster":8.97,"score":2451,"sample":"NB839"},{"cluster":9.0,"score":2431,"sample":"NB839"},{"cluster":8.98,"score":2400,"sample":"NB839"},{"cluster":9.1,"score":2372,"sample":"NB839"},{"cluster":9.05,"score":2349,"sample":"NB839"},{"cluster":8.82,"score":2344,"sample":"NB839"},{"cluster":8.9,"score":2321,"sample":"NB831"},{"cluster":9.12,"score":2298,"sample":"NB849"},{"cluster":8.93,"score":2290,"sample":"NB839"},{"cluster":9.12,"score":2273,"sample":"NB839"},{"cluster":8.98,"score":2252,"sample":"NB839"},{"cluster":9.15,"score":2245,"sample":"NB839"},{"cluster":9.12,"score":2262,"sample":"NB839"},{"cluster":9.05,"score":2087,"sample":"NB839"},{"cluster":8.83,"score":2036,"sample":"NB839"},{"cluster":9.12,"score":2025,"sample":"NB839"},{"cluster":8.97,"score":2003,"sample":"NB839"},{"cluster":8.85,"score":1974,"sample":"NB831"},{"cluster":8.9,"score":1972,"sample":"NB839"},{"cluster":9.02,"score":1975,"sample":"NB839"},{"cluster":8.92,"score":1949,"sample":"NB887"},{"cluster":9.0,"score":1949,"sample":"NB883"},{"cluster":9.0,"score":1926,"sample":"NB849"},{"cluster":9.18,"score":1903,"sample":"NB839"},{"cluster":9.16,"score":1896,"sample":"NB839"},{"cluster":9.16,"score":1847,"sample":"NB839"},{"cluster":9.02,"score":1839,"sample":"NB849"},{"cluster":8.85,"score":1796,"sample":"NB839"},{"cluster":9.05,"score":1781,"sample":"NB839"},{"cluster":8.97,"score":1770,"sample":"NB849"},{"cluster":9.15,"score":1750,"sample":"NB837"},{"cluster":8.9,"score":1720,"sample":"NB839"},{"cluster":8.93,"score":1712,"sample":"NB839"},{"cluster":9.0,"score":1705,"sample":"NB849"},{"cluster":8.86,"score":1700,"sample":"NB839"},{"cluster":9.12,"score":1666,"sample":"NB839"},{"cluster":8.9,"score":1655,"sample":"NB839"},{"cluster":9.05,"score":1643,"sample":"NB849"},{"cluster":9.1,"score":1602,"sample":"NB849"},{"cluster":8.9,"score":1589,"sample":"NB839"},

    {"cluster":8.82,"score":1575,"sample":"NB839"},{"cluster":9.14,"score":1560,"sample":"NB849"},{"cluster":8.95,"score":1548,"sample":"NB839"},{"cluster":9.2,"score":1535,"sample":"NB831"},{"cluster":8.88,"score":1520,"sample":"NB839"},{"cluster":9.06,"score":1510,"sample":"NB849"},{"cluster":8.8,"score":1500,"sample":"NB839"},{"cluster":9.18,"score":1490,"sample":"NB837"},{"cluster":9.0,"score":1478,"sample":"NB849"},{"cluster":8.9,"score":1465,"sample":"NB839"},{"cluster":9.1,"score":1455,"sample":"NB887"},{"cluster":8.82,"score":1445,"sample":"NB849"},{"cluster":9.14,"score":1432,"sample":"NB839"},{"cluster":8.95,"score":1420,"sample":"NB839"},{"cluster":9.2,"score":1410,"sample":"NB849"},{"cluster":8.88,"score":1398,"sample":"NB831"},{"cluster":9.06,"score":1385,"sample":"NB839"},{"cluster":8.8,"score":1372,"sample":"NB849"},{"cluster":9.18,"score":1360,"sample":"NB855"},{"cluster":9.0,"score":1350,"sample":"NB839"},{"cluster":8.9,"score":1338,"sample":"NB849"},{"cluster":9.1,"score":1325,"sample":"NB839"},{"cluster":8.82,"score":1312,"sample":"NB883"},{"cluster":9.14,"score":1300,"sample":"NB849"},{"cluster":8.95,"score":1290,"sample":"NB839"},{"cluster":9.2,"score":1278,"sample":"NB831"},{"cluster":8.88,"score":1265,"sample":"NB849"},{"cluster":9.06,"score":1252,"sample":"NB839"},{"cluster":8.8,"score":1240,"sample":"NB887"},{"cluster":9.18,"score":1228,"sample":"NB839"},{"cluster":9.0,"score":1218,"sample":"NB849"},{"cluster":8.9,"score":1205,"sample":"NB837"},{"cluster":9.1,"score":1195,"sample":"NB839"},{"cluster":8.82,"score":1182,"sample":"NB849"},{"cluster":9.14,"score":1170,"sample":"NB855"},{"cluster":8.95,"score":1160,"sample":"NB839"},{"cluster":9.2,"score":1148,"sample":"NB883"},{"cluster":8.88,"score":1136,"sample":"NB849"},{"cluster":9.06,"score":1125,"sample":"NB839"},{"cluster":8.8,"score":1112,"sample":"NB831"},{"cluster":9.18,"score":1100,"sample":"NB849"},{"cluster":9.0,"score":1090,"sample":"NB839"},{"cluster":8.9,"score":1078,"sample":"NB887"},{"cluster":9.1,"score":1066,"sample":"NB839"},{"cluster":8.82,"score":1055,"sample":"NB849"},{"cluster":9.14,"score":1042,"sample":"NB855"},{"cluster":8.95,"score":1030,"sample":"NB839"},{"cluster":9.2,"score":1018,"sample":"NB849"},{"cluster":8.88,"score":1008,"sample":"NB831"},

    {"cluster":8.82,"score":1000,"sample":"NB839"},{"cluster":9.14,"score":992,"sample":"NB849"},{"cluster":8.95,"score":984,"sample":"NB831"},{"cluster":9.2,"score":976,"sample":"NB855"},{"cluster":8.88,"score":968,"sample":"NB883"},{"cluster":9.06,"score":960,"sample":"NB839"},{"cluster":8.8,"score":952,"sample":"NB849"},{"cluster":9.18,"score":944,"sample":"NB853"},{"cluster":9.0,"score":936,"sample":"NB887"},{"cluster":8.9,"score":928,"sample":"NB856"},{"cluster":9.1,"score":920,"sample":"NB837"},{"cluster":8.82,"score":912,"sample":"NB849"},{"cluster":9.14,"score":904,"sample":"NB839"},{"cluster":8.95,"score":896,"sample":"NB864"},{"cluster":9.2,"score":888,"sample":"NB855"},{"cluster":8.88,"score":880,"sample":"NB839"},{"cluster":9.06,"score":872,"sample":"NB849"},{"cluster":8.8,"score":864,"sample":"NB831"},{"cluster":9.18,"score":856,"sample":"NB855"},{"cluster":9.0,"score":848,"sample":"NB883"},{"cluster":8.9,"score":840,"sample":"NB839"},{"cluster":9.1,"score":832,"sample":"NB849"},{"cluster":8.82,"score":824,"sample":"NB853"},{"cluster":9.14,"score":816,"sample":"NB887"},{"cluster":8.95,"score":808,"sample":"NB856"},{"cluster":9.2,"score":800,"sample":"NB837"},{"cluster":8.88,"score":792,"sample":"NB849"},{"cluster":9.06,"score":784,"sample":"NB839"},{"cluster":8.8,"score":776,"sample":"NB864"},{"cluster":9.18,"score":768,"sample":"NB855"},{"cluster":9.0,"score":760,"sample":"NB839"},{"cluster":8.9,"score":752,"sample":"NB849"},{"cluster":9.1,"score":744,"sample":"NB831"},{"cluster":8.82,"score":736,"sample":"NB855"},{"cluster":9.14,"score":728,"sample":"NB883"},{"cluster":8.95,"score":720,"sample":"NB839"},{"cluster":9.2,"score":712,"sample":"NB849"},{"cluster":8.88,"score":704,"sample":"NB853"},{"cluster":9.06,"score":696,"sample":"NB887"},{"cluster":8.8,"score":688,"sample":"NB856"},{"cluster":9.18,"score":680,"sample":"NB837"},{"cluster":9.0,"score":672,"sample":"NB849"},{"cluster":8.9,"score":664,"sample":"NB839"},{"cluster":9.1,"score":656,"sample":"NB864"},{"cluster":8.82,"score":648,"sample":"NB855"},{"cluster":9.14,"score":640,"sample":"NB839"},{"cluster":8.95,"score":632,"sample":"NB849"},{"cluster":9.2,"score":624,"sample":"NB831"},{"cluster":8.88,"score":616,"sample":"NB855"},{"cluster":9.06,"score":608,"sample":"NB883"},

    {"cluster":8.8,"score":600,"sample":"NB856"},{"cluster":9.18,"score":592,"sample":"NB855"},{"cluster":9.0,"score":584,"sample":"NB849"},{"cluster":8.9,"score":576,"sample":"NB883"},{"cluster":9.1,"score":568,"sample":"NB839"},{"cluster":8.82,"score":560,"sample":"NB856"},{"cluster":9.14,"score":552,"sample":"NB853"},{"cluster":8.95,"score":544,"sample":"NB887"},{"cluster":9.2,"score":536,"sample":"NB855"},{"cluster":8.88,"score":528,"sample":"NB831"},{"cluster":9.06,"score":520,"sample":"NB849"},{"cluster":8.8,"score":512,"sample":"NB856"},{"cluster":9.18,"score":504,"sample":"NB864"},{"cluster":9.0,"score":496,"sample":"NB839"},{"cluster":8.9,"score":488,"sample":"NB855"},{"cluster":9.1,"score":480,"sample":"NB883"},{"cluster":8.82,"score":472,"sample":"NB847"},{"cluster":9.14,"score":464,"sample":"NB856"},{"cluster":8.95,"score":456,"sample":"NB855"},{"cluster":9.2,"score":448,"sample":"NB849"},{"cluster":8.88,"score":440,"sample":"NB883"},{"cluster":9.06,"score":432,"sample":"NB839"},{"cluster":8.8,"score":424,"sample":"NB856"},{"cluster":9.18,"score":416,"sample":"NB853"},{"cluster":9.0,"score":408,"sample":"NB887"},{"cluster":8.9,"score":400,"sample":"NB855"},{"cluster":9.1,"score":392,"sample":"NB831"},{"cluster":8.82,"score":384,"sample":"NB849"},{"cluster":9.14,"score":376,"sample":"NB856"},{"cluster":8.95,"score":368,"sample":"NB864"},{"cluster":9.2,"score":360,"sample":"NB839"},{"cluster":8.88,"score":352,"sample":"NB855"},{"cluster":9.06,"score":344,"sample":"NB883"},{"cluster":8.8,"score":336,"sample":"NB847"},{"cluster":9.18,"score":328,"sample":"NB856"},{"cluster":9.0,"score":320,"sample":"NB855"},{"cluster":8.9,"score":312,"sample":"NB849"},{"cluster":9.1,"score":304,"sample":"NB883"},{"cluster":8.82,"score":296,"sample":"NB839"},{"cluster":9.14,"score":288,"sample":"NB856"},{"cluster":8.95,"score":280,"sample":"NB853"},{"cluster":9.2,"score":272,"sample":"NB887"},{"cluster":8.88,"score":264,"sample":"NB855"},{"cluster":9.06,"score":256,"sample":"NB831"},{"cluster":8.8,"score":248,"sample":"NB849"},{"cluster":9.18,"score":240,"sample":"NB856"},{"cluster":9.0,"score":232,"sample":"NB864"},{"cluster":8.9,"score":224,"sample":"NB839"},{"cluster":9.1,"score":216,"sample":"NB855"},{"cluster":8.82,"score":208,"sample":"NB883"},{"cluster":9.14,"score":200,"sample":"NB847"},{"cluster":8.95,"score":192,"sample":"NB856"},{"cluster":9.2,"score":184,"sample":"NB855"},{"cluster":8.88,"score":176,"sample":"NB849"},{"cluster":9.06,"score":168,"sample":"NB883"},{"cluster":8.8,"score":160,"sample":"NB839"},{"cluster":9.18,"score":152,"sample":"NB856"},{"cluster":9.0,"score":144,"sample":"NB853"},{"cluster":8.9,"score":136,"sample":"NB887"},{"cluster":9.1,"score":128,"sample":"NB855"},{"cluster":8.82,"score":120,"sample":"NB831"},{"cluster":9.14,"score":112,"sample":"NB849"},{"cluster":8.95,"score":104,"sample":"NB856"},
    {"cluster":8.92,"score":380,"sample":"NB856"},{"cluster":9.08,"score":340,"sample":"NB856"},{"cluster":8.86,"score":300,"sample":"NB855"},{"cluster":9.12,"score":260,"sample":"NB856"},{"cluster":8.98,"score":220,"sample":"NB856"},{"cluster":9.16,"score":180,"sample":"NB855"},{"cluster":8.84,"score":150,"sample":"NB856"},{"cluster":9.04,"score":120,"sample":"NB856"},{"cluster":8.94,"score":90,"sample":"NB856"},{"cluster":9.12,"score":70,"sample":"NB855"},
    {"cluster":8.85,"score":95,"sample":"NB883"},{"cluster":9.1,"score":85,"sample":"NB887"},{"cluster":8.95,"score":75,"sample":"NB883"},{"cluster":9.18,"score":60,"sample":"NB887"},{"cluster":8.8,"score":50,"sample":"NB883"},{"cluster":9.05,"score":45,"sample":"NB887"},{"cluster":8.9,"score":35,"sample":"NB887"},{"cluster":9.15,"score":30,"sample":"NB883"},{"cluster":9.0,"score":20,"sample":"NB887"},{"cluster":8.82,"score":10,"sample":"NB887"},{"cluster":9.12,"score":8,"sample":"NB887"},{"cluster":8.92,"score":0,"sample":"NB887"},{"cluster":9.2,"score":0,"sample":"NB887"},{"cluster":8.8,"score":0,"sample":"NB887"},{"cluster":9.05,"score":0,"sample":"NB887"},{"cluster":8.98,"score":15,"sample":"NB887"},{"cluster":9.1,"score":40,"sample":"NB887"},

    {"cluster":10.1,"score":125,"sample":"NB864"},{"cluster":9.8,"score":0,"sample":"NB864"},{"cluster":9.9,"score":0,"sample":"NB864"},{"cluster":10.0,"score":0,"sample":"NB864"},{"cluster":10.1,"score":0,"sample":"NB864"},{"cluster":10.2,"score":0,"sample":"NB864"},{"cluster":9.85,"score":6,"sample":"NB864"},{"cluster":10.05,"score":8,"sample":"NB864"},{"cluster":10.15,"score":5,"sample":"NB864"},{"cluster":9.95,"score":10,"sample":"NB864"},

    {"cluster":10.88,"score":125,"sample":"NB839"},{"cluster":11.03,"score":97,"sample":"NB839"},{"cluster":10.8,"score":69,"sample":"NB839"},{"cluster":11.1,"score":66,"sample":"NB839"},{"cluster":10.95,"score":50,"sample":"NB839"},{"cluster":11.12,"score":40,"sample":"NB839"},{"cluster":10.8,"score":0,"sample":"NB839"},{"cluster":10.9,"score":0,"sample":"NB839"},{"cluster":11.0,"score":0,"sample":"NB839"},{"cluster":11.1,"score":0,"sample":"NB839"},{"cluster":11.2,"score":0,"sample":"NB839"},{"cluster":10.85,"score":15,"sample":"NB839"},{"cluster":11.05,"score":25,"sample":"NB839"},{"cluster":11.15,"score":18,"sample":"NB839"},{"cluster":10.95,"score":30,"sample":"NB839"},{"cluster":11.0,"score":35,"sample":"NB839"},{"cluster":11.1,"score":12,"sample":"NB839"},
    {"cluster":10.9,"score":0,"sample":"NB864"},

    {"cluster":12.0,"score":54,"sample":"NB856"},{"cluster":11.85,"score":0,"sample":"NB856"},{"cluster":12.05,"score":20,"sample":"NB883"},
    {"cluster":11.8,"score":0,"sample":"NB864"},{"cluster":11.9,"score":0,"sample":"NB864"},{"cluster":12.0,"score":0,"sample":"NB864"},{"cluster":12.1,"score":0,"sample":"NB864"},{"cluster":12.2,"score":0,"sample":"NB864"},{"cluster":11.9,"score":10,"sample":"NB864"},{"cluster":12.05,"score":10,"sample":"NB864"},{"cluster":12.15,"score":6,"sample":"NB864"},{"cluster":12.05,"score":30,"sample":"NB864"},
    {"cluster":11.95,"score":0,"sample":"NB883"},

    {"cluster":13.17,"score":56,"sample":"NB839"},{"cluster":12.8,"score":38,"sample":"NB839"},{"cluster":13.05,"score":25,"sample":"NB839"},{"cluster":13.15,"score":20,"sample":"NB839"},{"cluster":12.9,"score":5,"sample":"NB855"},
    {"cluster":12.8,"score":0,"sample":"NB887"},{"cluster":12.9,"score":0,"sample":"NB887"},{"cluster":13.0,"score":0,"sample":"NB887"},{"cluster":13.1,"score":0,"sample":"NB887"},{"cluster":13.2,"score":0,"sample":"NB887"},{"cluster":12.85,"score":8,"sample":"NB887"},{"cluster":13.05,"score":8,"sample":"NB887"},

    {"cluster":13.82,"score":217,"sample":"NB839"},
    {"cluster":13.8,"score":0,"sample":"NB853"},{"cluster":13.9,"score":0,"sample":"NB853"},{"cluster":14.0,"score":0,"sample":"NB853"},{"cluster":14.1,"score":0,"sample":"NB853"},{"cluster":14.2,"score":0,"sample":"NB853"},{"cluster":13.85,"score":20,"sample":"NB853"},{"cluster":14.05,"score":30,"sample":"NB853"},{"cluster":14.15,"score":25,"sample":"NB853"},{"cluster":13.95,"score":45,"sample":"NB853"},{"cluster":14.1,"score":55,"sample":"NB853"},{"cluster":13.9,"score":70,"sample":"NB853"},{"cluster":14.05,"score":85,"sample":"NB853"},{"cluster":14.15,"score":100,"sample":"NB853"},{"cluster":13.85,"score":115,"sample":"NB853"},{"cluster":14.08,"score":122,"sample":"NB853"},{"cluster":14.18,"score":143,"sample":"NB853"},{"cluster":13.9,"score":130,"sample":"NB853"},{"cluster":14.0,"score":60,"sample":"NB853"},{"cluster":14.12,"score":75,"sample":"NB853"},{"cluster":13.95,"score":95,"sample":"NB853"},{"cluster":13.85,"score":40,"sample":"NB853"},{"cluster":14.2,"score":12,"sample":"NB853"},
    {"cluster":13.95,"score":0,"sample":"NB855"},

    {"cluster":15.02,"score":189,"sample":"NB839"},{"cluster":15.12,"score":89,"sample":"NB839"},{"cluster":14.9,"score":60,"sample":"NB839"},{"cluster":15.1,"score":45,"sample":"NB839"},{"cluster":14.85,"score":30,"sample":"NB839"},
    {"cluster":14.85,"score":100,"sample":"NB849"},{"cluster":15.0,"score":40,"sample":"NB847"},{"cluster":15.1,"score":20,"sample":"NB847"},{"cluster":14.8,"score":0,"sample":"NB853"},{"cluster":15.15,"score":0,"sample":"NB856"},
    {"cluster":14.9,"score":0,"sample":"NB887"},{"cluster":15.05,"score":0,"sample":"NB887"},{"cluster":15.05,"score":15,"sample":"NB887"},{"cluster":15.1,"score":28,"sample":"NB887"},{"cluster":15.12,"score":10,"sample":"NB883"},{"cluster":14.95,"score":8,"sample":"NB883"},

    {"cluster":15.92,"score":25,"sample":"NB839"},{"cluster":16.1,"score":10,"sample":"NB849"},
    {"cluster":15.8,"score":0,"sample":"NB887"},{"cluster":15.9,"score":0,"sample":"NB887"},{"cluster":16.0,"score":0,"sample":"NB887"},{"cluster":16.1,"score":0,"sample":"NB887"},{"cluster":16.2,"score":0,"sample":"NB887"},{"cluster":16.05,"score":8,"sample":"NB887"},{"cluster":15.85,"score":5,"sample":"NB887"},

    {"cluster":17.0,"score":15,"sample":"NB855"},
    {"cluster":17.0,"score":46,"sample":"NB856"},{"cluster":16.8,"score":0,"sample":"NB856"},{"cluster":16.9,"score":0,"sample":"NB856"},{"cluster":17.2,"score":0,"sample":"NB856"},{"cluster":17.1,"score":0,"sample":"NB856"},
    {"cluster":16.85,"score":0,"sample":"NB864"},{"cluster":17.0,"score":0,"sample":"NB864"},{"cluster":17.12,"score":0,"sample":"NB864"},{"cluster":17.05,"score":8,"sample":"NB864"},{"cluster":16.95,"score":10,"sample":"NB864"},

    {"cluster":17.8,"score":0,"sample":"NB847"},{"cluster":17.9,"score":0,"sample":"NB847"},{"cluster":18.0,"score":0,"sample":"NB847"},{"cluster":18.1,"score":0,"sample":"NB847"},{"cluster":18.2,"score":0,"sample":"NB847"},{"cluster":17.85,"score":15,"sample":"NB847"},{"cluster":18.05,"score":20,"sample":"NB847"},{"cluster":18.15,"score":25,"sample":"NB847"},{"cluster":17.95,"score":35,"sample":"NB847"},{"cluster":18.1,"score":45,"sample":"NB847"},{"cluster":18.15,"score":60,"sample":"NB847"},{"cluster":18.2,"score":66,"sample":"NB847"},{"cluster":17.9,"score":55,"sample":"NB847"},{"cluster":18.0,"score":50,"sample":"NB847"},{"cluster":18.08,"score":30,"sample":"NB847"},{"cluster":17.82,"score":40,"sample":"NB847"},{"cluster":18.18,"score":10,"sample":"NB847"},

    {"cluster":19.03,"score":518,"sample":"NB839"},{"cluster":19.2,"score":55,"sample":"NB839"},{"cluster":18.95,"score":40,"sample":"NB839"},
    {"cluster":19.05,"score":92,"sample":"NB847"},{"cluster":18.9,"score":60,"sample":"NB847"},{"cluster":18.9,"score":45,"sample":"NB847"},
    {"cluster":19.1,"score":30,"sample":"NB849"},{"cluster":18.85,"score":20,"sample":"NB849"},
    {"cluster":18.8,"score":30,"sample":"NB864"},{"cluster":18.9,"score":55,"sample":"NB864"},
    {"cluster":18.8,"score":0,"sample":"NB883"},{"cluster":18.9,"score":0,"sample":"NB883"},{"cluster":19.0,"score":0,"sample":"NB883"},{"cluster":19.1,"score":0,"sample":"NB883"},{"cluster":19.05,"score":25,"sample":"NB883"},{"cluster":18.85,"score":12,"sample":"NB883"},
    {"cluster":19.15,"score":0,"sample":"NB887"},{"cluster":19.05,"score":5,"sample":"NB887"},

    {"cluster":20.05,"score":18,"sample":"NB839"},{"cluster":20.1,"score":51,"sample":"NB849"},{"cluster":20.12,"score":35,"sample":"NB849"},{"cluster":20.05,"score":25,"sample":"NB849"},{"cluster":20.15,"score":10,"sample":"NB853"},
    {"cluster":19.8,"score":0,"sample":"NB856"},{"cluster":19.9,"score":0,"sample":"NB856"},{"cluster":20.0,"score":0,"sample":"NB856"},{"cluster":20.1,"score":0,"sample":"NB856"},{"cluster":20.15,"score":0,"sample":"NB856"},{"cluster":19.85,"score":10,"sample":"NB856"},{"cluster":20.05,"score":12,"sample":"NB856"},
    {"cluster":20.02,"score":0,"sample":"NB883"},

    {"cluster":21.08,"score":43,"sample":"NB839"},{"cluster":21.12,"score":25,"sample":"NB849"},{"cluster":21.18,"score":15,"sample":"NB849"},{"cluster":20.85,"score":0,"sample":"NB856"},
    {"cluster":20.9,"score":10,"sample":"NB864"},{"cluster":21.05,"score":15,"sample":"NB864"},
    {"cluster":20.95,"score":20,"sample":"NB883"},{"cluster":21.1,"score":5,"sample":"NB883"},{"cluster":21.05,"score":0,"sample":"NB883"},{"cluster":20.8,"score":0,"sample":"NB883"},{"cluster":21.15,"score":0,"sample":"NB887"},

    {"cluster":22.05,"score":25,"sample":"NB849"},{"cluster":21.9,"score":18,"sample":"NB849"},{"cluster":22.15,"score":20,"sample":"NB849"},
    {"cluster":21.8,"score":0,"sample":"NB887"},{"cluster":21.9,"score":0,"sample":"NB887"},{"cluster":22.0,"score":0,"sample":"NB887"},{"cluster":22.1,"score":0,"sample":"NB887"},{"cluster":22.2,"score":0,"sample":"NB887"},{"cluster":22.05,"score":8,"sample":"NB887"},{"cluster":21.95,"score":10,"sample":"NB887"},

    {"cluster":23.0,"score":79,"sample":"NB837"},{"cluster":23.1,"score":20,"sample":"NB837"},{"cluster":22.85,"score":30,"sample":"NB839"},{"cluster":23.15,"score":40,"sample":"NB839"},
    {"cluster":22.9,"score":51,"sample":"NB847"},{"cluster":23.1,"score":51,"sample":"NB847"},{"cluster":23.0,"score":35,"sample":"NB847"},
    {"cluster":22.8,"score":0,"sample":"NB849"},{"cluster":22.9,"score":0,"sample":"NB849"},{"cluster":23.0,"score":0,"sample":"NB849"},{"cluster":23.1,"score":0,"sample":"NB849"},{"cluster":23.2,"score":0,"sample":"NB849"},{"cluster":22.95,"score":15,"sample":"NB849"},{"cluster":23.05,"score":10,"sample":"NB849"},

    {"cluster":23.95,"score":61,"sample":"NB839"},{"cluster":24.12,"score":71,"sample":"NB839"},{"cluster":23.9,"score":40,"sample":"NB839"},{"cluster":24.1,"score":30,"sample":"NB839"},{"cluster":24.15,"score":20,"sample":"NB849"},
    {"cluster":24.03,"score":46,"sample":"NB853"},{"cluster":23.8,"score":0,"sample":"NB853"},{"cluster":23.9,"score":0,"sample":"NB853"},{"cluster":24.0,"score":0,"sample":"NB853"},{"cluster":24.1,"score":0,"sample":"NB853"},{"cluster":24.2,"score":0,"sample":"NB853"},{"cluster":24.0,"score":15,"sample":"NB853"},{"cluster":23.9,"score":10,"sample":"NB853"},

    {"cluster":24.9,"score":79,"sample":"NB839"},{"cluster":25.1,"score":30,"sample":"NB839"},{"cluster":24.95,"score":25,"sample":"NB839"},{"cluster":25.12,"score":59,"sample":"NB853"},
    {"cluster":24.8,"score":0,"sample":"NB856"},{"cluster":24.9,"score":0,"sample":"NB856"},{"cluster":25.0,"score":0,"sample":"NB856"},{"cluster":25.1,"score":0,"sample":"NB856"},{"cluster":25.15,"score":0,"sample":"NB856"},{"cluster":25.05,"score":8,"sample":"NB856"},
    {"cluster":25.0,"score":0,"sample":"NB864"}
  ]},
  "layer": [
    {
      "mark": {"type": "point", "opacity": 0},
      "encoding": {
        "x": {"field": "cluster", "type": "quantitative", "scale": {"domain": [-1.67, 26.67], "nice": false, "zero": false},
          "axis": {"orient": "top", "values": [5, 15, 25], "grid": true, "gridColor": "white", "gridWidth": 2, "ticks": false, "labels": false, "domain": false, "title": null}},
        "y": {"field": "score", "type": "quantitative", "scale": {"domain": [-160, 3388], "nice": false, "zero": false},
          "axis": {"orient": "right", "values": [500, 1500, 2500], "grid": true, "gridColor": "white", "gridWidth": 2, "ticks": false, "labels": false, "domain": false, "title": null}}
      }
    },
    {
      "mark": {"type": "point", "shape": "circle", "filled": true, "size": 260, "fillOpacity": 0.5, "strokeOpacity": 0.5, "strokeWidth": 2},
      "encoding": {
        "x": {"field": "cluster", "type": "quantitative",
          "axis": {"values": [0, 10, 20], "format": "d", "grid": true, "gridColor": "white", "gridWidth": 4, "domain": false, "ticks": true, "tickColor": "#333333", "tickWidth": 4, "tickSize": 12, "labelAngle": 270, "labelFontSize": 35, "labelColor": "#4D4D4D", "labelFont": "Liberation Sans", "labelPadding": 8, "title": "Seurat Clusters", "titleFontSize": 46, "titleFont": "Liberation Sans", "titleFontWeight": "normal", "titleColor": "black", "titlePadding": 14}},
        "y": {"field": "score", "type": "quantitative",
          "axis": {"values": [0, 1000, 2000, 3000], "format": "d", "grid": true, "gridColor": "white", "gridWidth": 4, "domain": false, "ticks": true, "tickColor": "#333333", "tickWidth": 4, "tickSize": 12, "labelFontSize": 35, "labelColor": "#4D4D4D", "labelFont": "Liberation Sans", "labelPadding": 11, "title": "Activity Score", "titleFontSize": 46, "titleFont": "Liberation Sans", "titleFontWeight": "normal", "titleColor": "black", "titlePadding": 9}},
        "color": {"field": "sample", "type": "nominal",
          "scale": {"domain": ["NB831","NB837","NB839","NB847","NB849","NB853","NB855","NB856","NB864","NB883","NB887"], "range": ["#F8766D","#DB8E00","#AEA200","#64B200","#00BD5C","#00C1A7","#00BADE","#00A6FF","#B385FF","#EF67EB","#FF63B6"]},
          "legend": {"orient": "none", "legendX": 1575, "legendY": 505, "padding": 0, "title": "SampleNames", "titleLimit": 600, "titleFontSize": 46, "titleFont": "Liberation Sans", "titleFontWeight": "normal", "titleColor": "black", "titlePadding": 42, "labelFontSize": 36, "labelFont": "Liberation Sans", "labelColor": "black", "symbolType": "circle", "symbolSize": 260, "symbolStrokeWidth": 2, "symbolOpacity": 0.5, "rowPadding": 36, "symbolOffset": 16, "labelOffset": 40}},
        "stroke": {"field": "sample", "type": "nominal",
          "scale": {"domain": ["NB831","NB837","NB839","NB847","NB849","NB853","NB855","NB856","NB864","NB883","NB887"], "range": ["#F8766D","#DB8E00","#AEA200","#64B200","#00BD5C","#00C1A7","#00BADE","#00A6FF","#B385FF","#EF67EB","#FF63B6"]},
          "legend": {"orient": "none", "legendX": 1575, "legendY": 505, "padding": 0, "title": "SampleNames", "titleLimit": 600, "titleFontSize": 46, "titleFont": "Liberation Sans", "titleFontWeight": "normal", "titleColor": "black", "titlePadding": 42, "labelFontSize": 36, "labelFont": "Liberation Sans", "labelColor": "black", "symbolType": "circle", "symbolSize": 260, "symbolStrokeWidth": 2, "symbolOpacity": 0.5, "rowPadding": 36, "symbolOffset": 16, "labelOffset": 40}}
      }
    }
  ],
  "resolve": {"axis": {"x": "independent", "y": "independent"}}
}
